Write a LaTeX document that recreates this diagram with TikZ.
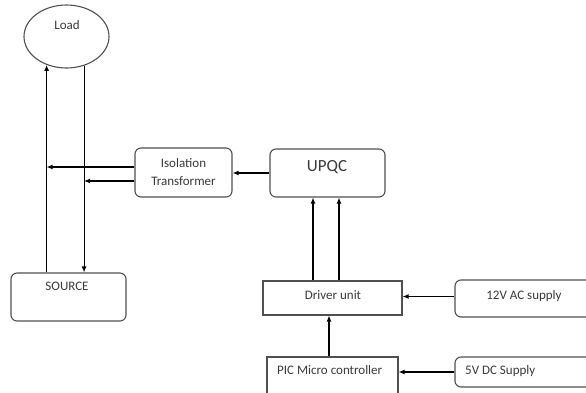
\documentclass[tikz,border=0pt]{standalone}
\usepackage{fontspec}
\setmainfont{Carlito}
\usetikzlibrary{shapes.geometric,arrows.meta}
\definecolor{txt}{HTML}{3A3A3A}
\definecolor{brd}{HTML}{505050}
\begin{document}
\begin{tikzpicture}[x=1pt,y=-1pt,
  every node/.style={font=\fontsize{13}{18}\selectfont, text=txt},
  rbox/.style={draw=brd, line width=1.1pt, rounded corners=6pt, inner sep=0pt},
  sbox/.style={draw=brd, line width=1.1pt, inner sep=0pt},
  lbl/.style={inner sep=0pt},
  arr/.style={draw=black, line width=1.1pt, -{Latex[length=6pt,width=5pt]}}]
\useasboundingbox (0,0) rectangle (586,392);
\clip (0,0) rectangle (586,392);
\fill[white] (0,0) rectangle (586,392);
% nodes
\node (load) [ellipse, draw=brd, line width=1.1pt, minimum width=85pt, minimum height=63pt, inner sep=0pt] at (66.5,36.5) {};
\node (loadtxt) [lbl] at (67,25) {Load};
\node (src) [rbox, minimum width=115pt, minimum height=48pt] at (68.5,297) {};
\node (srctxt) [lbl] at (67,286) {SOURCE};
\node (iso) [rbox, minimum width=97pt, minimum height=49pt, align=center] at (183.5,172.5) {Isolation\\Transformer};
\node (upqc) [rbox, minimum width=115pt, minimum height=48pt] at (327.5,173) {};
\node (upqctxt) [lbl, font=\fontsize{17}{20}\selectfont] at (327,167) {UPQC};
\node (drv) [sbox, minimum width=139pt, minimum height=34pt] at (332.5,298) {};
\node (drvtxt) [lbl] at (333,295) {Driver unit};
\node (ac) [rbox, minimum width=160pt, minimum height=37pt] at (535,298.5) {};
\node (actxt) [lbl] at (524,296) {12V AC supply};
\node (pic) [sbox, minimum width=131pt, minimum height=60pt] at (332.5,387) {};
\node (pictxt) [lbl, anchor=west] at (277,370) {PIC Micro controller};
\node (dc) [rbox, minimum width=160pt, minimum height=30pt] at (535,372) {};
\node (dctxt) [lbl, anchor=west] at (465,371) {5V DC Supply};
% connectors
\draw[arr] (load.235 |- src.north) -- (load.235);
\draw[arr] (load.301) -- (load.301 |- src.north);
\coordinate (i1) at ([yshift=5.5pt]iso.west);
\coordinate (i2) at ([yshift=-8.5pt]iso.west);
\draw[arr] (i1) -- (i1 -| load.235);
\draw[arr] (i2) -- (i2 -| load.301);
\draw[arr] (upqc.west) -- (upqc.west -| iso.east);
\coordinate (d1) at ([xshift=-19.5pt]drv.north);
\coordinate (d2) at ([xshift=6.5pt]drv.north);
\draw[arr] (d1) -- (d1 |- upqc.south);
\draw[arr] (d2) -- (d2 |- upqc.south);
\coordinate (a1) at ([yshift=2pt]ac.west);
\draw[arr] (a1) -- (a1 -| drv.east);
\coordinate (p1) at ([xshift=-3.5pt]pic.north);
\draw[arr] (p1) -- (p1 |- drv.south);
\draw[arr] (dc.west) -- (dc.west -| pic.east);
\end{tikzpicture}
\end{document}
